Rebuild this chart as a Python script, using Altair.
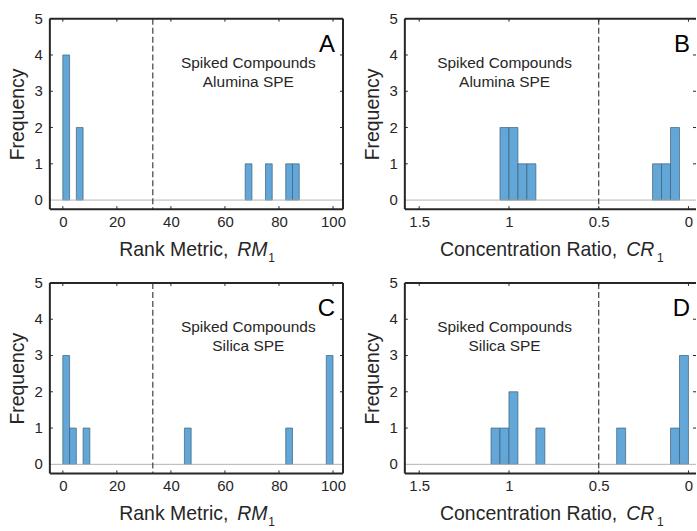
import altair as alt
import pandas as pd

# ---------------- data ----------------
BIN_RM = 2.5
BIN_CR = 0.05

A_start = [0, 5, 67.5, 75, 82.5, 85]
A_count = [4, 2, 1, 1, 1, 1]
B_start = [1.0, 0.95, 0.9, 0.85, 0.15, 0.10, 0.05]
B_count = [2, 2, 1, 1, 1, 1, 2]
C_start = [0, 2.5, 7.5, 45, 82.5, 97.5]
C_count = [3, 1, 1, 1, 1, 3]
D_start = [1.05, 1.0, 0.95, 0.80, 0.35, 0.05, 0.0]
D_count = [1, 1, 2, 1, 1, 1, 3]

RM_ticks = [0, 20, 40, 60, 80, 100]
CR_ticks = [0, 0.5, 1, 1.5]
Y_ticks = [0, 1, 2, 3, 4, 5]
RM_threshold = 33.3
CR_threshold = 0.5

FONT = "Liberation Sans"
INK = "#262626"
BAR_FILL = "#62a7d8"
BAR_EDGE = "#3d5f78"

H = 191
TITLE_SIZE = 19.5
LABEL_SIZE = 15


def panel(starts, counts, binw, xdomain, reverse, xticks, threshold,
          letter, line1, line2, tmain, tital, tsub, w, full_frame,
          t_split, note_x):
    xs = alt.Scale(domain=xdomain, reverse=reverse, nice=False, zero=False)
    ys = alt.Scale(domain=[-0.25, 5], nice=False, zero=False)
    xaxis = alt.Axis(values=xticks, labelExpr="'' + datum.value", title=None,
                     labelPadding=5, labelOverlap=False)
    yaxis = alt.Axis(values=Y_ticks, title="Frequency", labels=False,
                     titlePadding=22)

    df = pd.DataFrame({"start": starts, "count": counts})
    df["end"] = df["start"] + binw

    one = pd.DataFrame({"k": [0]})

    baseline = alt.Chart(one).mark_rule(color="#b4b4b4", strokeWidth=1).encode(
        y=alt.datum(0, scale=ys), x=alt.value(0), x2=alt.value(w))

    bars = alt.Chart(df).mark_bar(fill=BAR_FILL, stroke=BAR_EDGE,
                                  strokeWidth=0.7).encode(
        x=alt.X("start:Q", scale=xs, axis=xaxis),
        x2="end:Q",
        y=alt.Y("count:Q", scale=ys, axis=yaxis),
        y2=alt.datum(0),
    )

    dashed = alt.Chart(one).mark_rule(color="#404040", strokeWidth=1.2,
                                      strokeDash=[6, 3]).encode(
        x=alt.datum(threshold), y=alt.value(0), y2=alt.value(H))

    frame = [
        alt.Chart(one).mark_rule(color=INK, strokeWidth=2).encode(
            x=alt.value(0), x2=alt.value(w), y=alt.value(0)),
        alt.Chart(one).mark_rule(color=INK, strokeWidth=2).encode(
            x=alt.value(0), x2=alt.value(w), y=alt.value(H)),
        alt.Chart(one).mark_rule(color=INK, strokeWidth=2).encode(
            x=alt.value(0), y=alt.value(0), y2=alt.value(H)),
    ]
    if full_frame:
        frame.append(alt.Chart(one).mark_rule(color=INK, strokeWidth=2).encode(
            x=alt.value(w), y=alt.value(0), y2=alt.value(H)))

    tick_mark = dict(color=INK, strokeWidth=1)
    ticks = []
    for v in xticks:
        ticks.append(alt.Chart(one).mark_rule(**tick_mark).encode(
            x=alt.datum(v), y=alt.value(H), y2=alt.value(H - 3)))
        ticks.append(alt.Chart(one).mark_rule(**tick_mark).encode(
            x=alt.datum(v), y=alt.value(0), y2=alt.value(3)))
    for v in Y_ticks[1:]:
        ticks.append(alt.Chart(one).mark_rule(**tick_mark).encode(
            y=alt.datum(v), x=alt.value(0), x2=alt.value(3)))
        ticks.append(alt.Chart(one).mark_rule(**tick_mark).encode(
            y=alt.datum(v), x=alt.value(w - 3), x2=alt.value(w)))

    ylabels = []
    for v in Y_ticks:
        ylabels.append(alt.Chart(one).mark_text(
            text=str(v), font=FONT, fontSize=LABEL_SIZE, color=INK,
            align="right", baseline="middle").encode(
            y=alt.datum(v), x=alt.value(-7)))

    texts = [
        alt.Chart(one).mark_text(text=letter, font=FONT, fontSize=24,
                                 color="black", align="right",
                                 baseline="alphabetic").encode(
            x=alt.value(286), y=alt.value(33)),
        alt.Chart(one).mark_text(text=[line1, line2], font=FONT, fontSize=15.5,
                                 lineHeight=19, color=INK, align="center",
                                 baseline="alphabetic").encode(
            x=alt.value(note_x), y=alt.value(49)),
        alt.Chart(one).mark_text(text=tmain, font=FONT, fontSize=TITLE_SIZE,
                                 color=INK, align="right",
                                 baseline="alphabetic").encode(
            x=alt.value(t_split - 9), y=alt.value(H + 47)),
        alt.Chart(one).mark_text(text=tital, font=FONT, fontSize=TITLE_SIZE,
                                 fontStyle="italic", color=INK, align="left",
                                 baseline="alphabetic").encode(
            x=alt.value(t_split), y=alt.value(H + 47)),
        alt.Chart(one).mark_text(text=tsub, font=FONT, fontSize=12,
                                 color=INK, align="left",
                                 baseline="alphabetic").encode(
            x=alt.value(t_split + 31), y=alt.value(H + 53)),
    ]

    return alt.layer(bars, baseline, dashed, *ticks, *frame, *ylabels,
                     *texts).properties(width=w, height=H)


A = panel(A_start, A_count, BIN_RM, [-4.8, 103.7], False, RM_ticks,
          RM_threshold, "A", "Spiked Compounds", "Alumina SPE",
          "Rank Metric,", "RM", "1", 294, True, 188, 199)
B = panel(B_start, B_count, BIN_CR, [-0.042, 1.58], True, CR_ticks,
          CR_threshold, "B", "Spiked Compounds", "Alumina SPE",
          "Concentration Ratio,", "CR", "1", 292, False, 222, 100)
C = panel(C_start, C_count, BIN_RM, [-4.8, 103.7], False, RM_ticks,
          RM_threshold, "C", "Spiked Compounds", "Silica SPE",
          "Rank Metric,", "RM", "1", 294, True, 188, 199)
D = panel(D_start, D_count, BIN_CR, [-0.042, 1.58], True, CR_ticks,
          CR_threshold, "D", "Spiked Compounds", "Silica SPE",
          "Concentration Ratio,", "CR", "1", 292, False, 222, 100)

chart = alt.concat(
    A, B, C, D, columns=2,
    spacing=alt.RowColnumber(row=74, column=62),
    bounds="flush",
).properties(
    padding={"left": 8, "top": 11, "right": 0, "bottom": 0},
    background="white",
).configure_view(stroke=None).configure_axis(
    labelFont=FONT, labelFontSize=LABEL_SIZE, labelColor=INK,
    titleFont=FONT, titleFontSize=TITLE_SIZE, titleFontWeight="normal",
    titleColor=INK, ticks=False, domain=False, grid=False,
)

chart.save("out.html", embed_options={"renderer": "svg", "actions": False})
